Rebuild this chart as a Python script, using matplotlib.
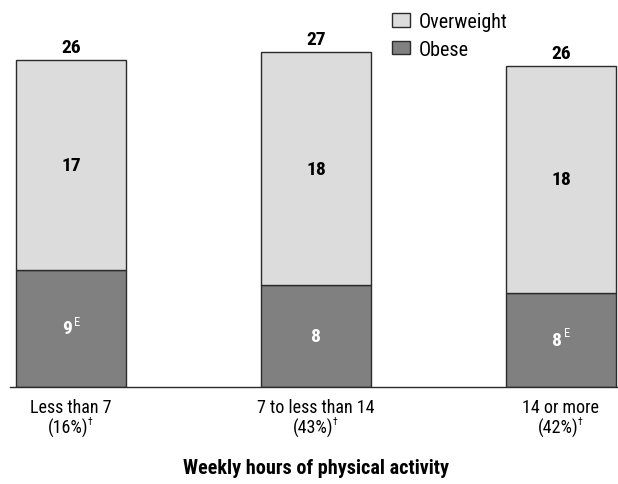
import matplotlib
matplotlib.use("Agg")
import matplotlib.pyplot as plt

# data
categories = ["Less than 7", "7 to less than 14", "14 or more"]
shares = ["(16%)", "(43%)", "(42%)"]
obese = [9.3, 8.1, 7.5]
overweight = [16.7, 18.5, 18.0]
obese_labels = ["9", "8", "8"]
obese_flags = ["E", "", "E"]
overweight_labels = ["17", "18", "18"]
total_labels = ["26", "27", "26"]

plt.rcParams['font.family'] = ['Roboto Condensed', 'Liberation Sans', 'DejaVu Sans']

light = "#dcdcdc"
dark = "#808080"
edge = "#2b2b2b"


def main():
    fig = plt.figure(figsize=(6.18, 4.85), dpi=100)
    ax = fig.add_axes([10 / 618, 97 / 485, 608 / 618, 388 / 485])

    x = list(range(len(categories)))
    w = 0.449
    ax.bar(x, obese, w, color=dark, edgecolor=edge, linewidth=1, label="Obese")
    ax.bar(x, overweight, w, bottom=obese, color=light, edgecolor=edge,
           linewidth=1, label="Overweight")

    for i in x:
        tot = obese[i] + overweight[i]
        ax.annotate(total_labels[i], (i, tot), xytext=(0, 3), textcoords="offset points",
                    ha="center", va="bottom", fontsize=14, fontweight="bold")
        ax.text(i, obese[i] + overweight[i] / 2, overweight_labels[i], ha="center",
                va="center", fontsize=14, fontweight="bold")
        dx = -3 if obese_flags[i] else 0
        ax.annotate(obese_labels[i], (i, obese[i] / 2), xytext=(dx, 0),
                    textcoords="offset points", ha="center", va="center",
                    fontsize=14, fontweight="bold", color="white")
        if obese_flags[i]:
            ax.annotate(obese_flags[i], (i, obese[i] / 2), xytext=(2, 5),
                        textcoords="offset points", ha="left", va="center",
                        fontsize=9, color="white")
        # tick labels
        ax.annotate(categories[i], (i, 0), xytext=(0, -8), textcoords="offset points",
                    ha="center", va="top", fontsize=13, annotation_clip=False)
        ax.annotate(shares[i], (i, 0), xytext=(-2, -22), textcoords="offset points",
                    ha="center", va="top", fontsize=13, annotation_clip=False)
        ax.annotate("\u2020", (i, 0), xytext=(12, -21), textcoords="offset points",
                    ha="left", va="top", fontsize=7, annotation_clip=False)

    ax.set_xlim(-0.249, 2.233)
    ax.set_ylim(0, 30.84)
    ax.set_xticks([])
    ax.set_yticks([])
    for s in ["top", "right", "left"]:
        ax.spines[s].set_visible(False)
    ax.spines["bottom"].set_color(edge)
    ax.spines["bottom"].set_linewidth(1)

    handles, labels = ax.get_legend_handles_labels()
    ax.legend(handles[::-1], labels[::-1], loc="upper left", bbox_to_anchor=(369 / 608, 1.0),
              frameon=False, fontsize=14.5, handlelength=0.9, handleheight=0.65,
              handletextpad=0.4, labelspacing=0.42, borderaxespad=0.25)

    fig.text(316 / 618, 1 - 469 / 485, "Weekly hours of physical activity", ha="center",
             va="center", fontsize=14.5, fontweight="bold")

    fig.savefig("out.png", dpi=100)


if __name__ == "__main__":
    main()
